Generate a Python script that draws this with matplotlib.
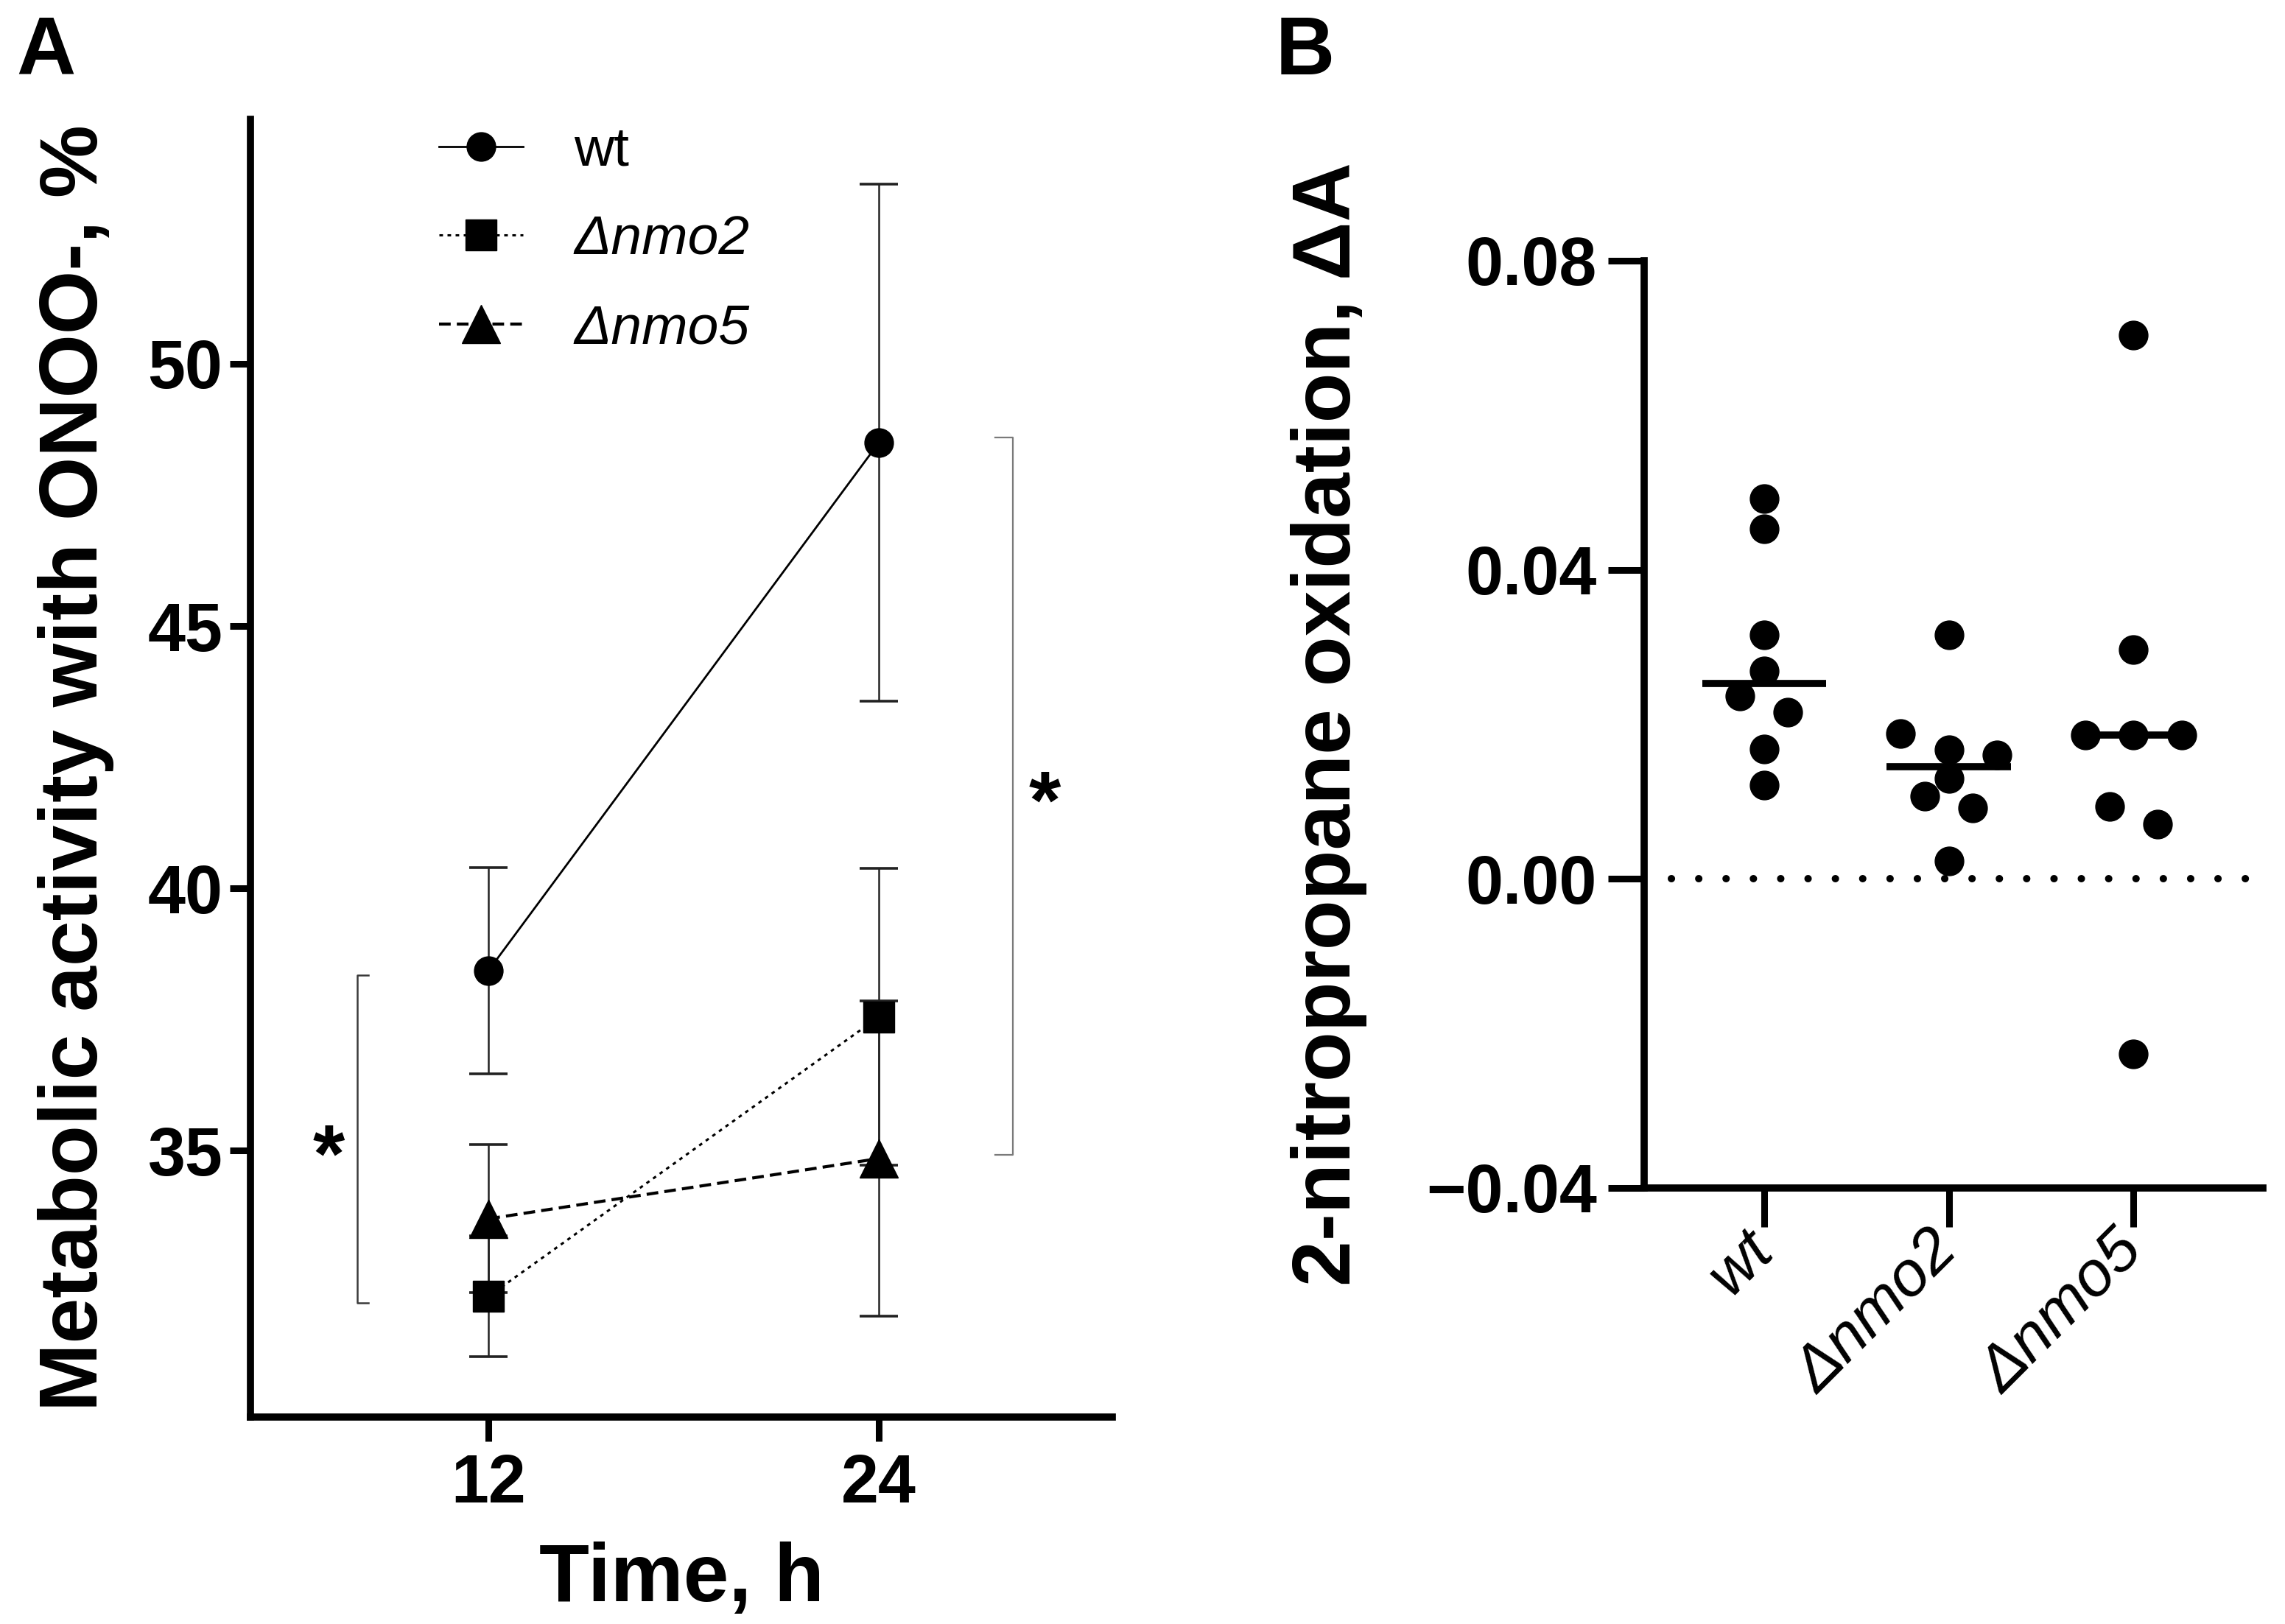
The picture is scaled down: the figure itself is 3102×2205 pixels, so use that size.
import numpy as np
import matplotlib
matplotlib.use('Agg')
import matplotlib.pyplot as plt
import matplotlib.transforms as mtransforms

plt.rcParams['font.family'] = ['Liberation Sans', 'DejaVu Sans']
plt.rcParams['font.weight'] = 'bold'

# ---------------- Panel A data ----------------
time_h = [12, 24]
wt_mean = [38.43, 48.50]
wt_sem = [1.96, 4.93]
nmo2_mean = [32.22, 37.55]
nmo2_sem = [1.15, 2.83]
nmo5_mean = [33.70, 34.85]
nmo5_sem = [1.41, 3.00]
legend_labels = ['wt', 'Δnmo2', 'Δnmo5']
a_yticks = [35, 40, 45, 50]

# significance brackets: x position, y from, y to
left_bracket = (7.97, 32.10, 38.34)
right_bracket = (28.12, 34.92, 48.60)
left_star = (7.09, 35.11)
right_star = (29.09, 41.84)

# ---------------- Panel B data ----------------
groups = ['wt', 'Δnmo2', 'Δnmo5']
wt_ox = [0.0492, 0.0453, 0.0316, 0.0269, 0.0237, 0.0216, 0.0168, 0.0121]
nmo2_ox = [0.0316, 0.0188, 0.0167, 0.0160, 0.0130, 0.0107, 0.0092, 0.0023]
nmo5_ox = [0.0704, 0.0297, 0.0186, 0.0186, 0.0186, 0.0094, 0.0071, -0.0227]
b_yticks = [-0.04, 0.0, 0.04, 0.08]


def spread(vals, row_h=0.0045, step=0.26):
    """Simple column-scatter layout: points in the same value row are spread sideways."""
    vals = np.asarray(vals, dtype=float)
    rows = np.round(vals / row_h).astype(int)
    offs = np.zeros(len(vals))
    for r in np.unique(rows):
        idx = np.where(rows == r)[0]
        idx = idx[np.argsort(-vals[idx], kind='stable')]
        n = len(idx)
        for k, i in enumerate(idx):
            offs[i] = (k - (n - 1) / 2) * step
    return offs


fig = plt.figure(figsize=(31.02, 22.05), dpi=100)
axA = fig.add_axes([0.1096, 0.1274, 0.3772, 0.7991])
axB = fig.add_axes([0.7195, 0.2685, 0.2708, 0.5710])

# ---------------- Panel A ----------------
err_kw = dict(fmt='none', ecolor='#222222', elinewidth=1.8, capsize=19, capthick=2.6, zorder=2)
axA.errorbar(time_h, wt_mean, yerr=wt_sem, **err_kw)
axA.errorbar(time_h, nmo2_mean, yerr=nmo2_sem, **err_kw)
axA.errorbar(time_h, nmo5_mean, yerr=nmo5_sem, **err_kw)

l_wt, = axA.plot(time_h, wt_mean, color='black', lw=2.0, ls='-', marker='o', ms=28, zorder=4)
l_n2, = axA.plot(time_h, nmo2_mean, color='black', lw=2.2, ls=(0, (1.6, 2.0)), marker='s', ms=30, zorder=4)
l_n5, = axA.plot(time_h, nmo5_mean, color='black', lw=3.0, ls=(0, (3.8, 2.0)), marker='^', ms=37, zorder=4)

axA.set_xlim(4.69, 31.17)
axA.set_ylim(29.92, 54.66)
axA.set_xticks(time_h)
axA.set_yticks(a_yticks)
for s in ['top', 'right']:
    axA.spines[s].set_visible(False)
for s in ['left', 'bottom']:
    axA.spines[s].set_linewidth(7)
axA.tick_params(axis='y', width=6.5, length=20, labelsize=66, pad=7)
axA.tick_params(axis='x', width=6.5, length=24, labelsize=66, pad=11)
axA.set_ylabel('Metabolic activity with ONOO-, %', fontsize=80, fontweight='bold', labelpad=33)
axA.set_xlabel('Time, h', fontsize=80, fontweight='bold', labelpad=25)

# brackets
def bracket(ax, x, y0, y1, tick, color, lw):
    ax.plot([x + tick, x, x, x + tick], [y0, y0, y1, y1], color=color, lw=lw, clip_on=False, zorder=1)

bracket(axA, left_bracket[0], left_bracket[1], left_bracket[2], 0.34, '#3a3a3a', 1.8)
bracket(axA, right_bracket[0], right_bracket[1], right_bracket[2], -0.56, '#7a7a7a', 1.6)
for (sx, sy) in [left_star, right_star]:
    axA.annotate('*', xy=(sx, sy), xytext=(0, -15), textcoords='offset points',
                 ha='center', va='center', fontsize=80, fontweight='bold')

leg = axA.legend([l_wt, l_n2, l_n5], legend_labels, loc='upper left', bbox_to_anchor=(0.219, 0.995),
                 frameon=False, prop={'size': 54, 'weight': 'normal'}, handlelength=1.52,
                 handletextpad=0.92, labelspacing=0.69, borderpad=0, borderaxespad=0, numpoints=1)
for t in leg.get_texts()[1:]:
    t.set_fontstyle('italic')

# ---------------- Panel B ----------------
for i, vals in enumerate([wt_ox, nmo2_ox, nmo5_ox]):
    offs = spread(vals)
    axB.plot(i + offs, vals, ls='none', marker='o', ms=28, color='black', clip_on=False, zorder=4)
    med = np.median(vals)
    axB.hlines(med, i - 0.335, i + 0.335, color='black', lw=7, zorder=5)

zl = axB.axhline(0, xmin=0.044, xmax=1.0, color='black', lw=7.2, ls=(0, (0.01, 3.7)), zorder=3)
zl.set_dash_capstyle('round')

axB.set_xlim(-0.649, 2.70)
axB.set_ylim(-0.04, 0.08)
axB.set_yticks(b_yticks)
axB.set_yticklabels([('−' if v < 0 else '') + '{:.2f}'.format(abs(v)) for v in b_yticks])
axB.set_xticks(range(len(groups)))
axB.set_xticklabels(groups, rotation=45, ha='right', va='center', rotation_mode='anchor',
                    fontsize=62, fontstyle='italic', fontweight='normal')
shift = mtransforms.ScaledTranslation(4 / 72, -39 / 72, fig.dpi_scale_trans)
for lab in axB.get_xticklabels():
    lab.set_transform(lab.get_transform() + shift)
for s in ['top', 'right']:
    axB.spines[s].set_visible(False)
for s in ['left', 'bottom']:
    axB.spines[s].set_linewidth(7)
axB.tick_params(axis='y', width=6.5, length=35, labelsize=66, pad=11)
axB.tick_params(axis='x', width=6.5, length=38, pad=14)
axB.set_ylabel('2-nitropropane oxidation, ΔA', fontsize=80, fontweight='bold', labelpad=58)

# panel letters
fig.text(22 / 3102, 1 - 101 / 2205, 'A', fontsize=80, fontweight='bold', ha='left', va='baseline')
fig.text(1732 / 3102, 1 - 101 / 2205, 'B', fontsize=80, fontweight='bold', ha='left', va='baseline')

fig.savefig('out.png', dpi=100)
